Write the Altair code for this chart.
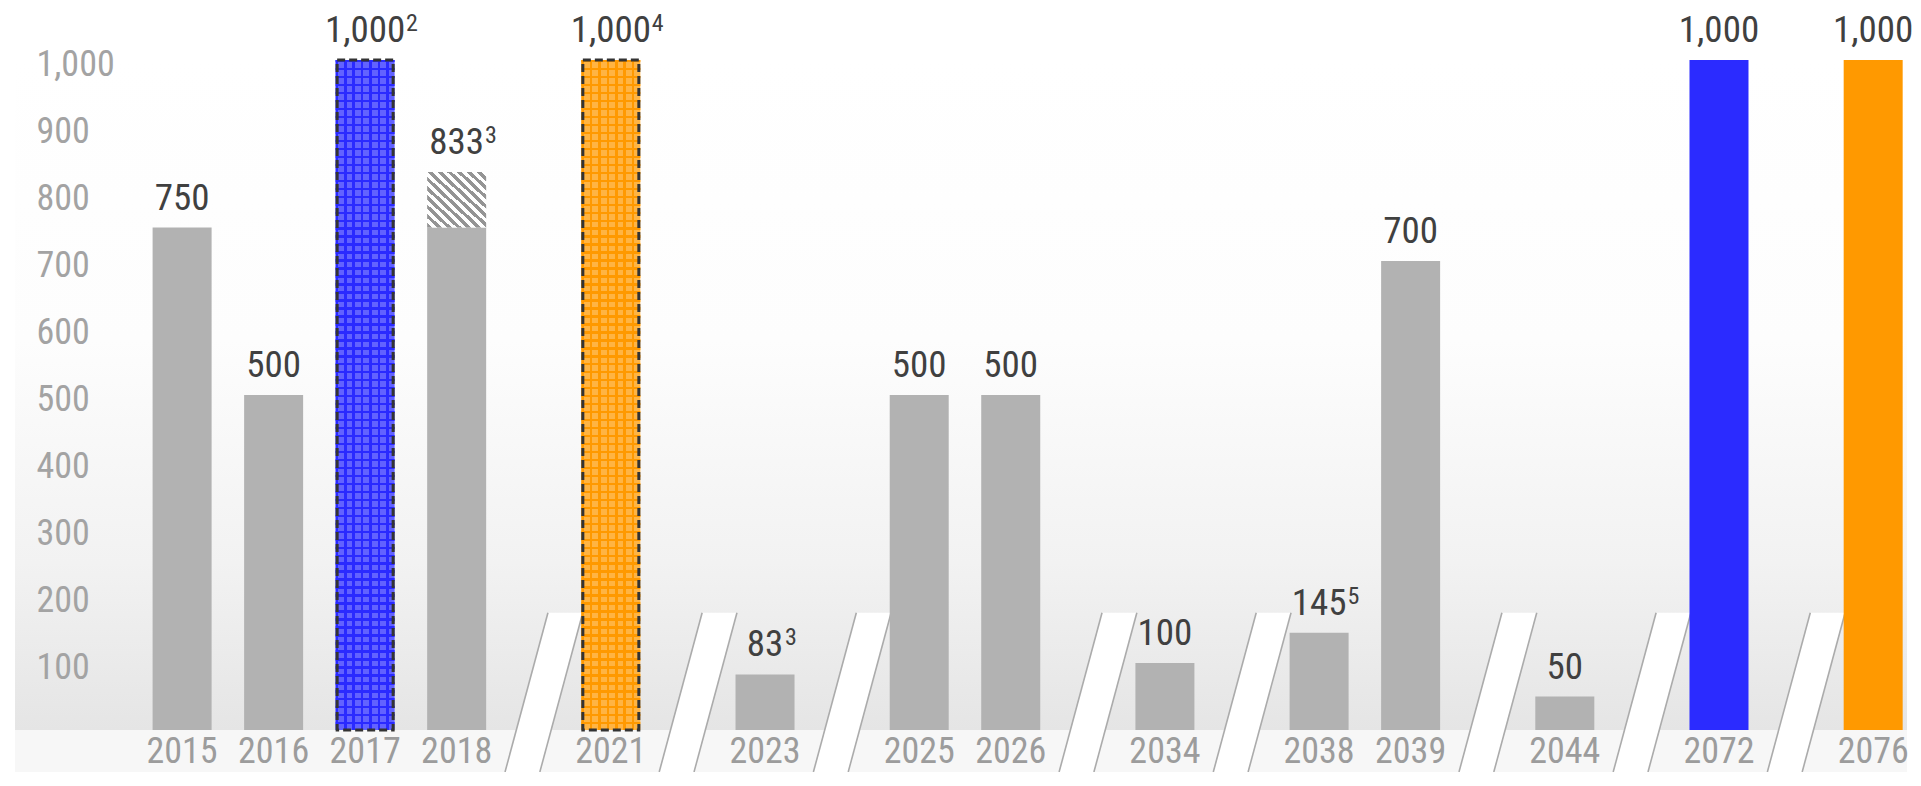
import altair as alt
import pandas as pd

# ---------------- data ----------------
YEARS = ["2015", "2016", "2017", "2018", "2021", "2023", "2025", "2026",
         "2034", "2038", "2039", "2044", "2072", "2076"]
VALUES = [750, 500, 1000, 833, 1000, 83, 500, 500, 100, 145, 700, 50, 1000, 1000]
NOTES = ["", "", "2", "3", "4", "3", "", "", "", "5", "", "", "", ""]
KINDS = ["grey", "grey", "blue_mesh", "grey", "orange_mesh", "grey", "grey", "grey",
         "grey", "grey", "grey", "grey", "blue", "orange"]
HATCH_FROM = {"2018": 750}          # part above this value is hatched
BREAK_AFTER = ["2018", "2021", "2023", "2026", "2034", "2039", "2044", "2072"]
Y_TICKS = [100, 200, 300, 400, 500, 600, 700, 800, 900, 1000]

# ---------------- layout / style constants ----------------
FONT = "Liberation Sans Narrow, Roboto Condensed, Arial Narrow, DejaVu Sans Condensed, sans-serif"
W, H = 1904, 712
PAD_TOP = 52
UNIT_PX = 92.0
BRK = 155.0 / UNIT_PX
PX_PER_VAL = 0.670
XMIN = -170.0 / UNIT_PX
XMAX = XMIN + W / UNIT_PX
YMIN = 1000 - H / PX_PER_VAL
BAR_PX = 59
GREY = "#b2b2b2"
LABEL_C = "#404040"
AXIS_C = "#a3a3a3"
LABEL_FS = 37
SUP_FS = 24

# positions along the broken axis
pos = []
p = 0.0
for i, y in enumerate(YEARS):
    if i > 0:
        p += BRK if YEARS[i - 1] in BREAK_AFTER else 1.0
    pos.append(p)

df = pd.DataFrame({
    "year": YEARS, "value": VALUES, "note": NOTES, "kind": KINDS, "pos": pos,
})
df["label"] = [f"{v:,}" for v in VALUES]
df["solid"] = [HATCH_FROM.get(y, v) for y, v in zip(YEARS, VALUES)]
df["base"] = 0

xs = alt.Scale(domain=[XMIN, XMAX], nice=False, zero=False)
ys = alt.Scale(domain=[YMIN, 1000], nice=False, zero=False)
Y_AXIS = alt.Axis(values=Y_TICKS, labelExpr="format(datum.value, ',')",
                  labelAlign="left", labelPadding=-28,
                  ticks=False, tickSize=0, domain=False, grid=False,
                  labelFont=FONT, labelFontSize=36, labelColor=AXIS_C,
                  labelBaseline="middle", labelOffset=4, title=None, zindex=1,
                  labelFlush=False, labelOverlap=False)


def X(field):
    return alt.X(field, scale=xs, axis=None)


def Y(field):
    return alt.Y(field, scale=ys, axis=Y_AXIS)


# ---------------- background ----------------
bg_df = pd.DataFrame({"l": [XMIN + 2 / UNIT_PX], "r": [XMAX], "top": [1000], "bot": [0]})
bg = alt.Chart(bg_df).mark_rect(fill={
    "gradient": "linear", "x1": 0, "y1": 0, "x2": 0, "y2": 1,
    "stops": [{"offset": 0, "color": "#ffffff"}, {"offset": 0.42, "color": "#fdfdfd"},
              {"offset": 0.75, "color": "#f2f2f2"}, {"offset": 1, "color": "#e5e5e5"}]
}).encode(x=X("l:Q"), x2="r:Q", y=Y("top:Q"), y2="bot:Q")

band_df = pd.DataFrame({"l": [XMIN + 2 / UNIT_PX], "r": [XMAX], "top": [0], "bot": [YMIN]})
band = alt.Chart(band_df).mark_rect(fill="#f7f7f7").encode(
    x=X("l:Q"), x2="r:Q", y=Y("top:Q"), y2="bot:Q")

# ---------------- axis breaks ----------------
SLOPE = (0.271 * PX_PER_VAL) / UNIT_PX   # x-units per value unit
HALF = 17.5 / UNIT_PX
BRK_TOP = 175
area_rows, line_rows = [], []
for i, y in enumerate(YEARS[:-1]):
    if y not in BREAK_AFTER:
        continue
    mid = (pos[i] + pos[i + 1]) / 2
    for v in (BRK_TOP, YMIN):
        c = mid + v * SLOPE
        area_rows.append({"brk": y, "yv": v, "xl": c - HALF, "xr": c + HALF})
        line_rows.append({"key": y + "L", "yv": v, "xx": c - HALF})
        line_rows.append({"key": y + "R", "yv": v, "xx": c + HALF})
brk_area = alt.Chart(pd.DataFrame(area_rows)).mark_area(
    orient="horizontal", color="#ffffff", opacity=1).encode(
    y=Y("yv:Q"), x=X("xl:Q"), x2="xr:Q", detail="brk:N")
brk_line = alt.Chart(pd.DataFrame(line_rows)).mark_line(
    color="#ababab", strokeWidth=1.6).encode(
    x=X("xx:Q"), y=Y("yv:Q"), detail="key:N", order="yv:Q")

# ---------------- bars ----------------
grey_df = df[df.kind == "grey"]
grey_bars = alt.Chart(grey_df).mark_bar(size=BAR_PX, color=GREY).encode(
    x=X("pos:Q"), y=Y("solid:Q"), y2="base:Q")

# hatched part
N_H = 12
hstops = []
for k in range(N_H):
    a, b = k / N_H, (k + 0.5) / N_H
    hstops += [{"offset": a, "color": "#949494"}, {"offset": b, "color": "#949494"},
               {"offset": b, "color": "#ffffff"}, {"offset": (k + 1) / N_H, "color": "#ffffff"}]
hatch_df = df[df.year.isin(list(HATCH_FROM.keys()))]
hatch = alt.Chart(hatch_df).mark_bar(size=BAR_PX, fill={
    "gradient": "linear", "x1": 0, "y1": 1, "x2": 1, "y2": 0, "stops": hstops}).encode(
    x=X("pos:Q"), y=Y("value:Q"), y2="solid:Q")


def line_stops(n, color, frac):
    st = []
    for k in range(n):
        a, b = k / n, (k + frac) / n
        st += [{"offset": a, "color": color}, {"offset": b, "color": color},
               {"offset": b, "color": "rgba(255,255,255,0)"},
               {"offset": (k + 1) / n, "color": "rgba(255,255,255,0)"}]
    return st


def mesh_layers(kind, base_c, line_c):
    d = df[df.kind == kind]
    base = alt.Chart(d).mark_bar(size=BAR_PX, color=base_c).encode(
        x=X("pos:Q"), y=Y("value:Q"), y2="base:Q")
    hl = alt.Chart(d).mark_bar(size=BAR_PX, fill={
        "gradient": "linear", "x1": 0, "y1": 0, "x2": 0, "y2": 1,
        "stops": line_stops(84, line_c, 0.3)}).encode(
        x=X("pos:Q"), y=Y("value:Q"), y2="base:Q")
    vl = alt.Chart(d).mark_bar(size=BAR_PX, fill={
        "gradient": "linear", "x1": 0, "y1": 0, "x2": 1, "y2": 0,
        "stops": line_stops(7, line_c, 0.3)}).encode(
        x=X("pos:Q"), y=Y("value:Q"), y2="base:Q")
    outline = alt.Chart(d).mark_bar(size=BAR_PX - 3, fillOpacity=0, stroke="#333333",
                                    strokeWidth=3, strokeDash=[8, 4]).encode(
        x=X("pos:Q"), y=Y("value:Q"), y2="base:Q")
    return [base, hl, vl, outline]


blue_mesh = mesh_layers("blue_mesh", "#6262ff", "#2a2aff")
orange_mesh = mesh_layers("orange_mesh", "#ffb443", "#ff9900")

blue_bar = alt.Chart(df[df.kind == "blue"]).mark_bar(size=BAR_PX, color="#2b2bff").encode(
    x=X("pos:Q"), y=Y("value:Q"), y2="base:Q")
orange_bar = alt.Chart(df[df.kind == "orange"]).mark_bar(size=BAR_PX, color="#ff9900").encode(
    x=X("pos:Q"), y=Y("value:Q"), y2="base:Q")

# ---------------- text ----------------
values_txt = alt.Chart(df).mark_text(
    font=FONT, fontSize=LABEL_FS, color=LABEL_C, baseline="alphabetic", align="center", dy=-18
).encode(x=X("pos:Q"), y=Y("value:Q"), text="label:N")

sup_layers = []
notes_df = df[df.note != ""].copy()
notes_df["w"] = [
    (sum(1 for ch in s if ch.isdigit()) * 0.456 + s.count(",") * 0.228) * LABEL_FS
    for s in notes_df.label]
for w, g in notes_df.groupby("w"):
    sup_layers.append(alt.Chart(g).mark_text(
        font=FONT, fontSize=SUP_FS, color=LABEL_C, baseline="alphabetic", align="left",
        dx=w / 2 + 3, dy=-29).encode(x=X("pos:Q"), y=Y("value:Q"), text="note:N"))

x_txt = alt.Chart(df).mark_text(
    font=FONT, fontSize=36, color="#9c9c9c", baseline="alphabetic", align="center"
).encode(x=X("pos:Q"), y=alt.value(H - 9), text="year:N")

chart = alt.layer(
    bg, band, brk_area, brk_line, grey_bars, hatch, *blue_mesh, *orange_mesh,
    blue_bar, orange_bar, values_txt, *sup_layers, x_txt
).properties(
    width=W, height=H,
    autosize=alt.AutoSizeParams(type="none"),
    padding={"left": 0, "top": PAD_TOP, "right": 0, "bottom": 0},
    background="#ffffff",
).configure_view(stroke=None)

chart.save("out.html", embed_options={"renderer": "svg", "actions": False})
